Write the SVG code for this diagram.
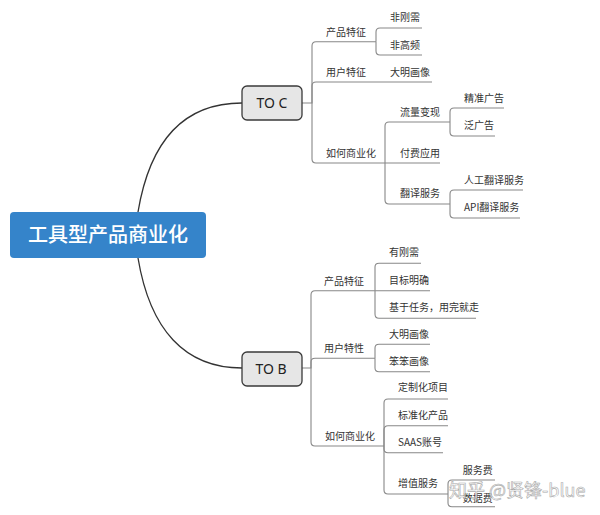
<svg xmlns="http://www.w3.org/2000/svg" width="600" height="515" viewBox="0 0 600 515">
<style>
text{font-family:"Noto Sans CJK SC","Noto Sans",sans-serif;}
.t{font-size:10px;fill:#333;}
.br{fill:#e6e6e6;stroke:#3a3a3a;stroke-width:1.3;}
.bt{font-family:"Noto Sans","Noto Sans CJK SC",sans-serif;font-size:14px;fill:#222;text-anchor:middle;}
.c{fill:none;stroke:#888;stroke-width:1.1;}
.m{fill:none;stroke:#333;stroke-width:1.3;}
</style>
<rect width="600" height="515" fill="#fff"/>
<g id="connectors">
<path class="m" d="M138,212 C150,140 185,103 242,103"/>
<path class="m" d="M138,258 C150,330 185,368 242,368"/>
<path class="c" d="M302,103 H312 V46 Q312,41.7 316,41.7 H376"/>
<path class="c" d="M312,103 V86 Q312,82 316,82 H432"/>
<path class="c" d="M312,103 V159 Q312,163 316,163 H440"/>
<path class="c" d="M376,41.7 V32 Q376,28 380,28 H422"/>
<path class="c" d="M376,41.7 V51 Q376,55 380,55 H422"/>
<path class="c" d="M385,163 V126 Q385,122 389,122 H450"/>
<path class="c" d="M385,163 V200 Q385,204 389,204 H450"/>
<path class="c" d="M450,122 V112 Q450,108 454,108 H504"/>
<path class="c" d="M450,122 V132 Q450,136 454,136 H495"/>
<path class="c" d="M450,204 V194 Q450,190 454,190 H523"/>
<path class="c" d="M450,204 V214 Q450,218 454,218 H520"/>
<path class="c" d="M302,368 H311 V295 Q311,290.7 315,290.7 H430"/>
<path class="c" d="M311,368 V362 Q311,358.3 315,358.3 H375"/>
<path class="c" d="M311,368 V442 Q311,446 315,446 H384"/>
<path class="c" d="M375,290.7 V267 Q375,263.3 379,263.3 H421"/>
<path class="c" d="M375,290.7 V314 Q375,318.3 379,318.3 H476"/>
<path class="c" d="M375,358.3 V348 Q375,344.3 379,344.3 H430"/>
<path class="c" d="M375,358.3 V368 Q375,371.7 379,371.7 H430"/>
<path class="c" d="M384,446 V403 Q384,399 388,399 H448"/>
<path class="c" d="M384,446 V430 Q384,425.7 388,425.7 H448"/>
<path class="c" d="M384,446 V449 Q384,452.7 388,452.7 H443"/>
<path class="c" d="M384,446 V490 Q384,494 388,494 H448"/>
<path class="c" d="M448,494 V484 Q448,480 452,480 H495"/>
<path class="c" d="M448,494 V503 Q448,506.7 452,506.7 H495"/>
</g>
<g id="root">
<rect x="10" y="212" width="196" height="46" rx="4" fill="#3584ca"/>
<text x="108" y="242" font-size="20" font-weight="500" fill="#fff" text-anchor="middle">工具型产品商业化</text>
</g>
<g id="toc">
<rect class="br" x="242" y="86" width="60" height="34" rx="5"/>
<text class="bt" x="272" y="108">TO C</text>
</g>
<g id="toc-1"><text class="t" x="326" y="35.5">产品特征</text></g>
<g id="toc-1-1"><text class="t" x="390" y="21">非刚需</text></g>
<g id="toc-1-2"><text class="t" x="390" y="49">非高频</text></g>
<g id="toc-2"><text class="t" x="326" y="76">用户特征</text></g>
<g id="toc-2-1"><text class="t" x="390" y="76">大明画像</text></g>
<g id="toc-3"><text class="t" x="326" y="157">如何商业化</text></g>
<g id="toc-3-1"><text class="t" x="400" y="116">流量变现</text></g>
<g id="toc-3-1-1"><text class="t" x="464" y="102">精准广告</text></g>
<g id="toc-3-1-2"><text class="t" x="464" y="129">泛广告</text></g>
<g id="toc-3-2"><text class="t" x="400" y="157">付费应用</text></g>
<g id="toc-3-3"><text class="t" x="400" y="197">翻译服务</text></g>
<g id="toc-3-3-1"><text class="t" x="464" y="184">人工翻译服务</text></g>
<g id="toc-3-3-2"><text class="t" x="464" y="211">API翻译服务</text></g>
<g id="tob">
<rect class="br" x="242" y="352" width="60" height="34" rx="5"/>
<text class="bt" x="271" y="374">TO B</text>
</g>
<g id="tob-1"><text class="t" x="324" y="284.5">产品特征</text></g>
<g id="tob-1-1"><text class="t" x="389" y="256">有刚需</text></g>
<g id="tob-1-2"><text class="t" x="389" y="284">目标明确</text></g>
<g id="tob-1-3"><text class="t" x="389" y="311">基于任务，用完就走</text></g>
<g id="tob-2"><text class="t" x="324" y="352">用户特性</text></g>
<g id="tob-2-1"><text class="t" x="389" y="338">大明画像</text></g>
<g id="tob-2-2"><text class="t" x="389" y="365">笨笨画像</text></g>
<g id="tob-3"><text class="t" x="325" y="440">如何商业化</text></g>
<g id="tob-3-1"><text class="t" x="398" y="391">定制化项目</text></g>
<g id="tob-3-2"><text class="t" x="398" y="419">标准化产品</text></g>
<g id="tob-3-3"><text class="t" x="398" y="445.5">SAAS账号</text></g>
<g id="tob-3-4"><text class="t" x="398" y="487">增值服务</text></g>
<g id="tob-3-4-1"><text class="t" x="462.7" y="474">服务费</text></g>
<g id="tob-3-4-2"><text class="t" x="462.7" y="502">数据费</text></g>
<text x="449" y="497" font-size="18" fill="#fff" fill-opacity="0.6" stroke="#aaa" stroke-width="0.6" font-family="Noto Sans CJK SC, sans-serif">知乎 @贤锋-blue</text>
</svg>
